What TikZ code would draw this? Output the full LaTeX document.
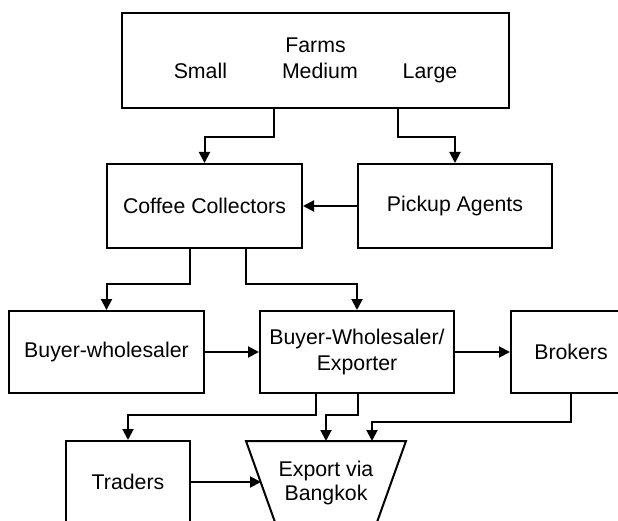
\documentclass[tikz,border=0pt]{standalone}
\usepackage{fontspec}
\setmainfont{Liberation Sans}
\usetikzlibrary{arrows.meta,calc}

\tikzset{
  box/.style={draw, line width=2pt, inner sep=0pt, align=center,
              font=\fontsize{21.3}{25.5}\selectfont},
  label/.style={inner sep=0pt, align=center,
              font=\fontsize{21.3}{24.5}\selectfont},
  flow/.style={line width=2pt, -{Triangle[length=11pt,width=11pt]}},
  edge/.style={line width=2pt}
}

\begin{document}
\begin{tikzpicture}[x=1pt, y=-1pt]
  \useasboundingbox (0,0) rectangle (618,521);
  \clip (0,0) rectangle (618,521);

  % boxes
  \node[box, minimum width=387pt, minimum height=95pt] (farms) at (315.5,60.5)
    {Farms\\Small\hspace{55pt}Medium\hspace{45pt}Large};
  \node[box, minimum width=195pt, minimum height=84pt] (cc) at (204.5,206) {Coffee Collectors};
  \node[box, minimum width=194pt, minimum height=84pt] (pickup) at (455,206) {Pickup Agents};
  \node[box, minimum width=195pt, minimum height=82pt] (bw) at (106.5,352) {Buyer-wholesaler};
  \node[box, minimum width=194pt, minimum height=82pt] (bwe) at (357,352) {Buyer-Wholesaler/\\Exporter};
  \node[box, minimum width=120pt, minimum height=82pt] (brokers) at (571,352) {Brokers};
  \node[box, minimum width=124pt, minimum height=82pt] (traders) at (128,482) {Traders};

  % export funnel
  \coordinate (extl) at (246,441);
  \coordinate (extr) at (406,441);
  \coordinate (exbl) at (276,525);
  \coordinate (exbr) at (376,525);
  \draw[edge, line join=miter] (extl) -- (exbl) -- (exbr) -- (extr) -- cycle;
  \node[label] (exp) at (326,483) {Export via\\Bangkok};
  \coordinate (exa) at (326,441);
  \coordinate (exb) at (372,441);
  \coordinate (exin) at ($(extl)!0.5!(exbl)$);

  % connectors
  \draw[flow] ($(farms.south)+(-41.5,0)$) -- ++(0,28) -| (cc.north);
  \draw[flow] ($(farms.south)+(82.5,0)$) -- ++(0,28) -| (pickup.north);
  \draw[flow] (pickup.west) -- (cc.east);
  \draw[flow] ($(cc.south)+(-14.5,0)$) -- ++(0,35) -| (bw.north);
  \draw[flow] ($(cc.south)+(41.5,0)$) -- ++(0,35) -| (bwe.north);
  \draw[flow] (bw.east) -- (bwe.west);
  \draw[flow] (bwe.east) -- (brokers.west);
  \draw[flow] ($(bwe.south)+(-41,0)$) -- ++(0,21) -| (traders.north);
  \draw[flow] ($(bwe.south)+(1,0)$) -- ++(0,21) -| (exa);
  \draw[flow] (brokers.south) -- ++(0,28) -| (exb);
  \draw[flow] (traders.east) -- (traders.east -| exin);
\end{tikzpicture}
\end{document}
